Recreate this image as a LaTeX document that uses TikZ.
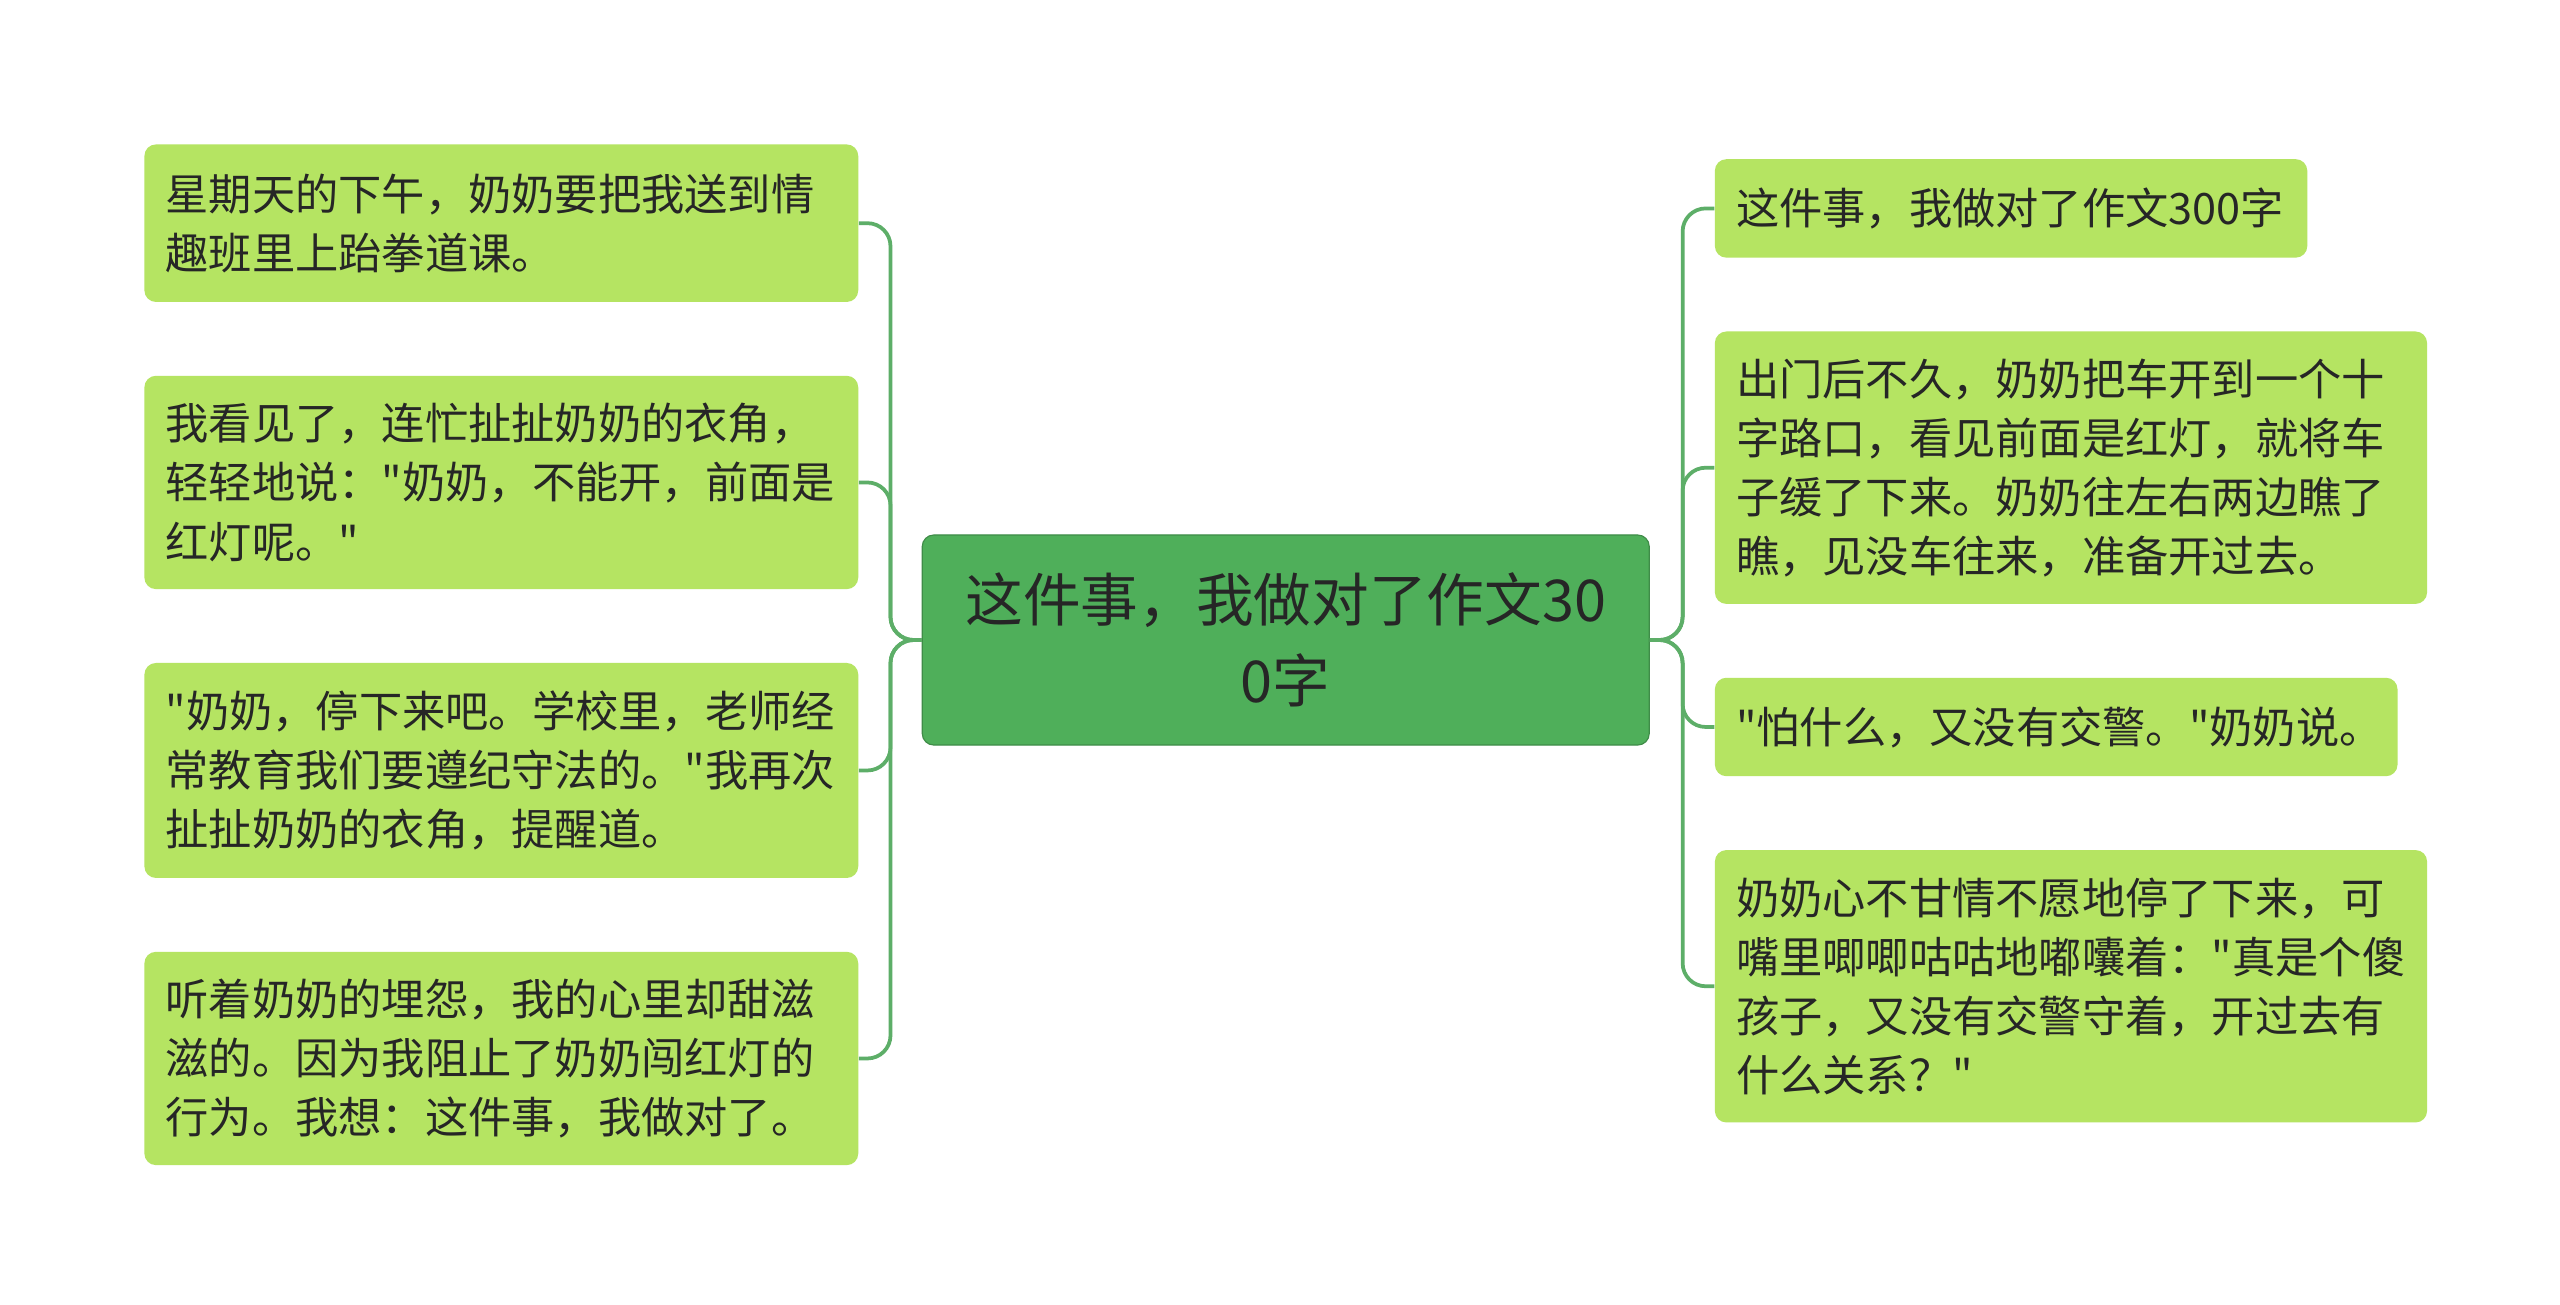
\documentclass[tikz,border=0pt]{standalone}
\usepackage{fontspec}
\newfontfamily\cjk{Noto Sans CJK SC}
\begin{document}
\begin{tikzpicture}[x=0.02cm,y=-0.02cm,
  leaf/.style={draw=none,fill=leafc,rounded corners=4pt,align=left,inner xsep=13*0.02cm,inner ysep=0pt,font=\cjk\fontsize{15}{20.5}\selectfont,text=black!85},
  link/.style={draw=linkc,line width=1.3pt,rounded corners=8pt}]
\definecolor{leafc}{HTML}{B5E462}
\definecolor{rootc}{HTML}{4FAF5A}
\definecolor{linkc}{HTML}{5DAE68}
\useasboundingbox[fill=white] (0,0) rectangle (1560,795);
\node[fill=rootc,draw=rootc!80!black,rounded corners=4pt,minimum width=443*0.02cm,minimum height=128*0.02cm,align=center,font=\cjk\fontsize{20}{28}\selectfont,text=black!85] (c) at (783.5,390) {这件事，我做对了作文30\\0字};
\newcommand{\leafnode}[6]{\node[leaf,minimum width=#3*0.02cm,text width=#3*0.02cm-26*0.02cm,minimum height=#5*0.02cm] (#1) at (#2+#3/2,#4+#5/2) {#6};}
\leafnode{l1}{88}{435}{88}{96}{星期天的下午，奶奶要把我送到情\\趣班里上跆拳道课。}
\leafnode{l2}{88}{435}{229}{130}{我看见了，连忙扯扯奶奶的衣角，\\轻轻地说："奶奶，不能开，前面是\\红灯呢。"}
\leafnode{l3}{88}{435}{404}{131}{"奶奶，停下来吧。学校里，老师经\\常教育我们要遵纪守法的。"我再次\\扯扯奶奶的衣角，提醒道。}
\leafnode{l4}{88}{435}{580}{130}{听着奶奶的埋怨，我的心里却甜滋\\滋的。因为我阻止了奶奶闯红灯的\\行为。我想：这件事，我做对了。}
\leafnode{r1}{1045}{361}{97}{60}{这件事，我做对了作文300字}
\leafnode{r2}{1045}{434}{202}{166}{出门后不久，奶奶把车开到一个十\\字路口，看见前面是红灯，就将车\\子缓了下来。奶奶往左右两边瞧了\\瞧，见没车往来，准备开过去。}
\leafnode{r3}{1045}{416}{413}{60}{"怕什么，又没有交警。"奶奶说。}
\leafnode{r4}{1045}{434}{518}{166}{奶奶心不甘情不愿地停了下来，可\\嘴里唧唧咕咕地嘟囔着："真是个傻\\孩子，又没有交警守着，开过去有\\什么关系？"}
\foreach \n in {l1,l2,l3,l4} \draw[link] (c.west) -- ++(-19,0) |- (\n.east);
\foreach \n in {r1,r2,r3,r4} \draw[link] (c.east) -- ++(20,0) |- (\n.west);
\end{tikzpicture}
\end{document}
